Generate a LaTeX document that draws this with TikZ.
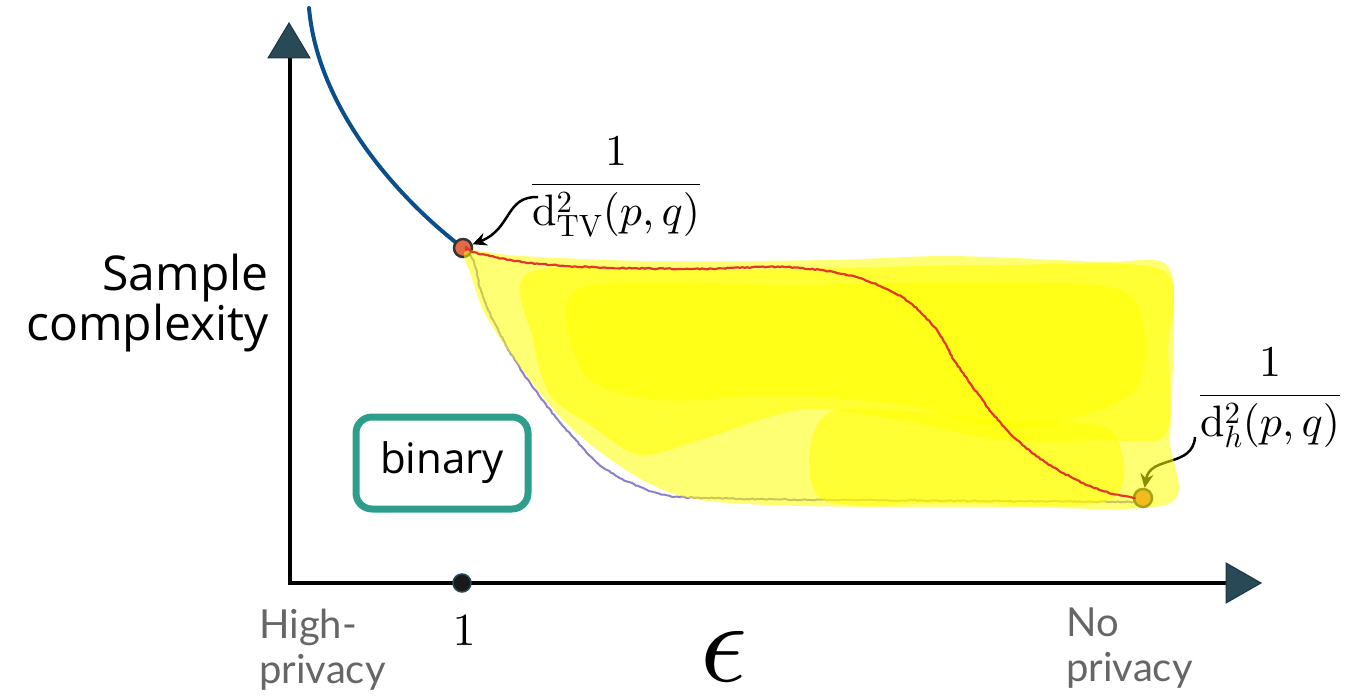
\documentclass[tikz,border=0pt]{standalone}
\usepackage[no-math]{fontspec}
\setmainfont{Open Sans}
\newfontfamily\latofont{Lato}
\DeclareFontShape{OML}{cmm}{m}{it}{<->cmmi10}{}
\DeclareFontShape{OT1}{cmr}{m}{n}{<->cmr10}{}
\DeclareFontShape{OMS}{cmsy}{m}{n}{<->cmsy10}{}
\usetikzlibrary{arrows.meta,decorations.pathmorphing}
\definecolor{axishead}{HTML}{274A56}
\definecolor{axisedge}{HTML}{1B333C}
\definecolor{bluecurve}{HTML}{0B4E8C}
\definecolor{dotorange}{HTML}{E46A44}
\definecolor{dotedge}{HTML}{333333}
\definecolor{redline}{HTML}{E2382A}
\definecolor{purpleline}{HTML}{8E7FCB}
\definecolor{tealbox}{HTML}{2E9E8C}
\definecolor{graytext}{HTML}{666666}
\definecolor{hilite}{HTML}{FFFF00}
\tikzset{
  axisline/.style={line width=3.5pt, black, line join=miter},
  axistri/.style={fill=axishead, draw=axisedge, line width=1pt, line join=miter},
  valdot/.style={circle, fill=dotorange, draw=dotedge, line width=2.5pt, minimum size=18pt, inner sep=0pt},
  tickdot/.style={circle, fill=black!90, draw=axishead, line width=1.5pt, minimum size=18pt, inner sep=0pt},
  curveblue/.style={line width=4pt, bluecurve, line cap=round},
  pencil/.style={decorate, decoration={random steps, segment length=2.5pt, amplitude=0.6pt}},
  curvered/.style={line width=2.2pt, redline, line cap=round, line join=round, pencil},
  curvepurple/.style={line width=2pt, purpleline, line cap=round, line join=round, pencil},
  hl/.style={fill=hilite, fill opacity=0.55, draw=none},
  callout/.style={line width=2.5pt, black, -{Stealth[length=14pt,width=13pt]}},
  binbox/.style={draw=tealbox, line width=7pt, rounded corners=16pt, minimum width=172pt, minimum height=92pt, font=\fontsize{42}{48}\selectfont},
  axlabel/.style={font=\fontsize{48}{50}\selectfont, inner sep=0pt},
  privlabel/.style={font=\latofont\fontsize{40}{45}\selectfont, text=graytext, inner sep=0pt, align=left},
  fraclabel/.style={font=\fontsize{44}{50}\selectfont, inner sep=0pt}
}
\begin{document}
\begin{tikzpicture}[x=1pt,y=-1pt]
\useasboundingbox (0,0) rectangle (1353,698);
% axes
\coordinate (O) at (290,583);
\coordinate (ytop) at (290,58);
\coordinate (xend) at (1226,583);
\draw[axisline] (ytop) -- (O) -- (xend);
\draw[axistri] (289,23) -- (268,58) -- (310,58) -- cycle;
\draw[axistri] (1261,583) -- (1226,563) -- (1226,603) -- cycle;
% labels
\node[axlabel, align=right, anchor=east] (ylab) at (269,303) {Sample\\complexity};
\node[privlabel, anchor=west] (hp) at (259,650) {High-\\privacy};
\node[privlabel, anchor=west] (np) at (1066,648) {No\\privacy};
\node[tickdot] (t1) at (462,583) {};
\node[inner sep=0pt, font=\fontsize{46}{50}\selectfont] (one) at (464,631) {$1$};
\node[inner sep=0pt, font=\fontsize{116}{116}\selectfont] (eps) at (724,657) {$\epsilon$};
% curves under highlight
\coordinate (bstart) at (309,8);
\draw[curveblue] (bstart) .. controls (318,110) and (400,200) .. (463,248);
\draw[curvepurple] plot[smooth, tension=0.6] coordinates {(465,252) (474,262) (483,297) (507,347) (540,397) (573,437) (607,470) (657,493) (707,498) (840,500) (1000,501) (1137,502)};
\node[valdot] (d1) at (463,248) {};
\node[valdot] (d2) at (1143,498) {};
% fraction labels
\node[fraclabel] (f1) at (616,187) {$\displaystyle\frac{1}{\mathrm{d}^2_{\mathrm{TV}}(p,q)}$};
\node[fraclabel] (f2) at (1270,398) {$\displaystyle\frac{1}{\mathrm{d}^2_{h}(p,q)}$};
\coordinate (a1s) at (538,197);
\coordinate (a2s) at (1195,437);
\draw[callout] (a1s) .. controls (505,196) and (512,229) .. (d1);
\draw[callout] (a2s) .. controls (1193,468) and (1150,455) .. (d2);
% highlighter
\fill[hl] plot[smooth cycle, tension=0.5] coordinates {(466,251) (520,256) (650,261) (830,260) (950,256) (1100,262) (1168,266) (1173,350) (1170,440) (1168,504) (1000,507) (800,506) (700,500) (650,484) (600,452) (560,417) (530,380) (505,346) (483,310) (472,278)};
\fill[hl] plot[smooth cycle, tension=0.5] coordinates {(530,272) (700,270) (830,268) (1000,265) (1162,270) (1168,350) (1165,435) (1100,440) (1000,440) (900,420) (800,410) (700,440) (640,455) (590,425) (550,395) (533,340)};
\fill[hl] plot[smooth cycle, tension=0.5] coordinates {(580,288) (800,285) (1000,282) (1130,295) (1135,390) (1020,428) (900,405) (780,395) (660,400) (585,375)};
\fill[hl] plot[smooth cycle, tension=0.5] coordinates {(830,412) (1000,420) (1110,430) (1110,500) (950,503) (820,498)};
% red curve on top
\draw[curvered] plot[smooth, tension=0.7] coordinates {(466,250) (540,264) (680,269) (800,268) (880,286) (930,322) (962,372) (1017,440) (1083,483) (1135,498)};
% binary box
\node[binbox] (bin) at (442,463) {binary};
\end{tikzpicture}
\end{document}
